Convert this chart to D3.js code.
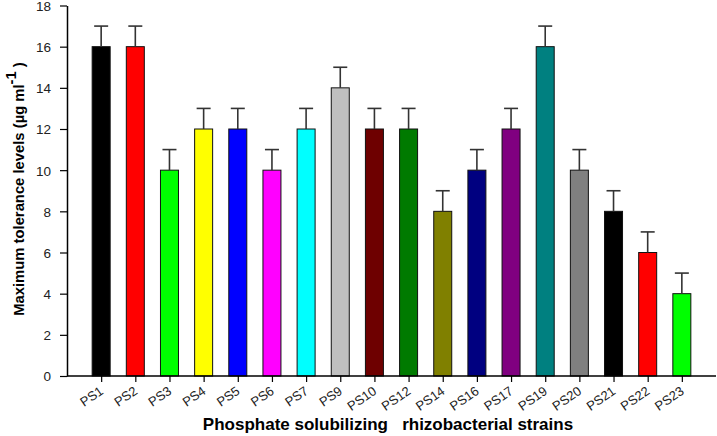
<!DOCTYPE html>
<html><head><meta charset="utf-8">
<script src="https://cdn.jsdelivr.net/npm/d3@7"></script>
<style>body{margin:0;background:#fff}svg{display:block}</style>
</head><body>
<svg id="c" width="717" height="436"></svg>
<script>
const categories = ["PS1","PS2","PS3","PS4","PS5","PS6","PS7","PS9","PS10","PS12","PS14","PS16","PS17","PS19","PS20","PS21","PS22","PS23"];
const values = [16,16,10,12,12,10,12,14,12,12,8,10,12,16,10,8,6,4];
const errors = [1,1,1,1,1,1,1,1,1,1,1,1,1,1,1,1,1,1];
const colors = ["#000000","#ff0000","#00ff00","#ffff00","#0000ff","#ff00ff","#00ffff","#c0c0c0","#6e0000","#007a00","#808000","#000080","#800080","#008080","#808080","#000000","#ff0000","#00ff00"];
const yTicks = [0,2,4,6,8,10,12,14,16,18];

(function(){
const svg = d3.select("#c");
const mLeft = 67, mRight = 716, mTop = 5.5, mBottom = 376;
const x = d3.scalePoint().domain(categories).range([mLeft, mRight]).padding(1);
const y = d3.scaleLinear().domain([0,18]).range([mBottom, mTop]);
const bw = 18, cap = 14;
const FF = "Liberation Sans, Arial, sans-serif";

const data = categories.map((c,i)=>({c, v:values[i], e:errors[i], col:colors[i]}));

svg.append("g").selectAll("rect").data(data).join("rect")
  .attr("x", d=>x(d.c)-bw/2).attr("width", bw)
  .attr("y", d=>y(d.v)).attr("height", d=>y(0)-y(d.v))
  .attr("fill", d=>d.col).attr("stroke", "#111").attr("stroke-width", 1);

const eg = svg.append("g").attr("stroke", "#333").attr("stroke-width", 1.6);
eg.selectAll("line.v").data(data).join("line").attr("class","v")
  .attr("x1", d=>x(d.c)).attr("x2", d=>x(d.c))
  .attr("y1", d=>y(d.v)).attr("y2", d=>y(d.v+d.e));
eg.selectAll("line.h").data(data).join("line").attr("class","h")
  .attr("x1", d=>x(d.c)-cap/2).attr("x2", d=>x(d.c)+cap/2)
  .attr("y1", d=>y(d.v+d.e)).attr("y2", d=>y(d.v+d.e));

const ya = svg.append("g").attr("transform", `translate(${mLeft},0)`)
  .call(d3.axisLeft(y).tickValues(yTicks).tickSize(7).tickPadding(9).tickSizeOuter(0));
ya.select(".domain").attr("stroke", "#000").attr("stroke-width", 1.5);
ya.selectAll(".tick line").attr("stroke", "#000").attr("stroke-width", 1.2);
ya.selectAll(".tick text").attr("font-family", FF).attr("font-size", 13.5).attr("fill", "#222").attr("dy", "0.36em");

const xa = svg.append("g").attr("transform", `translate(0,${mBottom})`)
  .call(d3.axisBottom(x).tickSize(6).tickSizeOuter(0));
xa.select(".domain").attr("stroke", "#000").attr("stroke-width", 1.5).attr("d", `M${mLeft},0H${mRight}`);
xa.selectAll(".tick line").attr("stroke", "#000").attr("stroke-width", 1.2);
xa.selectAll(".tick text").remove();

svg.append("g").selectAll("text").data(categories).join("text")
  .attr("font-family", FF).attr("font-size", 13).attr("fill", "#222")
  .attr("text-anchor", "end")
  .attr("transform", d => `translate(${x(d)+3},${mBottom+17}) rotate(-35)`)
  .text(d=>d);

svg.append("text").attr("x", 388).attr("y", 430).attr("text-anchor", "middle")
  .attr("font-family", FF).attr("font-weight", "bold").attr("font-size", 17)
  .attr("fill", "#000").style("white-space", "pre")
  .text("Phosphate solubilizing   rhizobacterial strains");

const yt = svg.append("text").attr("transform", "translate(24,189) rotate(-90)").attr("text-anchor", "middle")
  .attr("font-family", FF).attr("font-weight", "bold").attr("font-size", 14.8).attr("fill", "#000");
yt.append("tspan").text("Maximum tolerance levels (µg ml");
yt.append("tspan").attr("dy", -8).text("-1");
yt.append("tspan").attr("dy", 8).text(" )");
})();
</script>
</body></html>
